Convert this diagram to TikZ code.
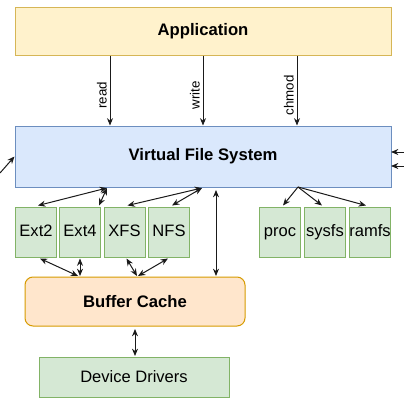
\documentclass[tikz,border=0pt]{standalone}
\usepackage{fontspec}
\setmainfont{Liberation Sans}
\usetikzlibrary{arrows.meta,calc}
\definecolor{appfill}{HTML}{FFF2CC}
\definecolor{appline}{HTML}{D6B656}
\definecolor{vfsfill}{HTML}{DAE8FC}
\definecolor{vfsline}{HTML}{6C8EBF}
\definecolor{fsfill}{HTML}{D5E8D4}
\definecolor{fsline}{HTML}{82B366}
\definecolor{bcfill}{HTML}{FFE6CC}
\definecolor{bcline}{HTML}{D79B00}
\definecolor{arrowcol}{HTML}{1A1A1A}
\begin{document}
\begin{tikzpicture}[x=0.75pt,y=-0.75pt,
  box/.style={draw, line width=0.75pt, inner sep=0pt, align=center},
  bigbox/.style={box, font=\fontsize{12.5}{15}\selectfont\bfseries},
  fsbox/.style={box, fill=fsfill, draw=fsline, minimum width=30.75pt, minimum height=37.5pt, text height=9pt, text depth=2.5pt, font=\fontsize{12.4}{15}\selectfont},
  conn/.style={line width=0.75pt, draw=arrowcol, -{Stealth[length=5.5pt,width=4.5pt]}},
  biconn/.style={line width=0.75pt, draw=arrowcol, {Stealth[length=5.5pt,width=4.5pt]}-{Stealth[length=5.5pt,width=4.5pt]}},
  lbl/.style={font=\fontsize{10}{12}\selectfont, rotate=90, anchor=south, inner sep=2pt}
]
\useasboundingbox (0,0) rectangle (404,404);
\fill[white] (0,0) rectangle (404,404);

% main boxes
\node[bigbox, fill=appfill, draw=appline, minimum width=282pt, minimum height=36pt] (app) at (203,31) {Application};
\node[bigbox, fill=vfsfill, draw=vfsline, minimum width=282pt, minimum height=45.75pt] (vfs) at (203,156.5) {Virtual File System};
\node[bigbox, fill=bcfill, draw=bcline, rounded corners=6pt, minimum width=165pt, minimum height=36.75pt] (bc) at (135,301.5) {Buffer Cache};
\node[box, fill=fsfill, draw=fsline, minimum width=142.5pt, minimum height=30pt, font=\fontsize{12.4}{15}\selectfont] (dd) at (134,377) {Device Drivers};

% file system boxes
\node[fsbox] (ext2) at (36,232) {Ext2};
\node[fsbox] (ext4) at (80,232) {Ext4};
\node[fsbox] (xfs) at (124.5,232) {XFS};
\node[fsbox] (nfs) at (169,232) {NFS};
\node[fsbox] (proc) at (280,232) {proc};
\node[fsbox] (sysfs) at (325,232) {sysfs};
\node[fsbox] (ramfs) at (370,232) {ramfs};

% helper coordinates
\coordinate (xr) at (110,0);
\coordinate (xw) at (203,0);
\coordinate (xc) at (297,0);
\coordinate (va) at (107,188);
\coordinate (vb) at (202,188);
\coordinate (vc) at (298,187);
\coordinate (vd) at (216,190);
\coordinate (bd) at (216,276);
\coordinate (ba) at (78,276);
\coordinate (bb) at (137,276);
\coordinate (lin) at (0,173);
\coordinate (rin1) at (404,152);
\coordinate (rin2) at (404,166);
\coordinate (vr1) at (391,152);
\coordinate (vr2) at (391,166);
\coordinate (bcb) at (135,329);
\coordinate (ddt) at (135,356);

% application to VFS
\draw[conn] (app.south -| xr) -- node[lbl, pos=0.57] {read} (vfs.north -| xr);
\draw[conn] (app.south -| xw) -- node[lbl, pos=0.57] {write} (vfs.north -| xw);
\draw[conn] (app.south -| xc) -- node[lbl, pos=0.57] {chmod} (vfs.north -| xc);

% side arrows into VFS
\draw[conn] (lin) -- (vfs.west);
\draw[conn] (rin1) -- (vr1);
\draw[conn] (rin2) -- (vr2);

% VFS to file systems
\draw[biconn] (va) -- ($(ext2.north)+(2,-1)$);
\draw[biconn] (va) -- ($(ext4.north east)+(-2,-1)$);
\draw[biconn] (vb) -- ($(xfs.north)+(3,-1)$);
\draw[biconn] (vb) -- ($(nfs.north)+(3,-1)$);
\draw[conn] (vc) -- ($(proc.north)+(3,-1)$);
\draw[conn] (vc) -- ($(sysfs.north)+(-3,-1)$);
\draw[conn] (vc) -- ($(ramfs.north)+(-4,-1)$);

% VFS to buffer cache
\draw[biconn] (vd) -- (bd);

% file systems to buffer cache
\draw[biconn] ($(ext2.south)+(4,1)$) -- (ba);
\draw[biconn] ($(ext4.south)+(0,1)$) -- ($(ba)+(2,0)$);
\draw[biconn] ($(xfs.south)+(2,1)$) -- (bb);
\draw[biconn] ($(nfs.south)+(-1,1)$) -- ($(bb)+(1,0)$);

% buffer cache to device drivers
\draw[biconn] (bcb) -- (ddt);
\end{tikzpicture}
\end{document}
